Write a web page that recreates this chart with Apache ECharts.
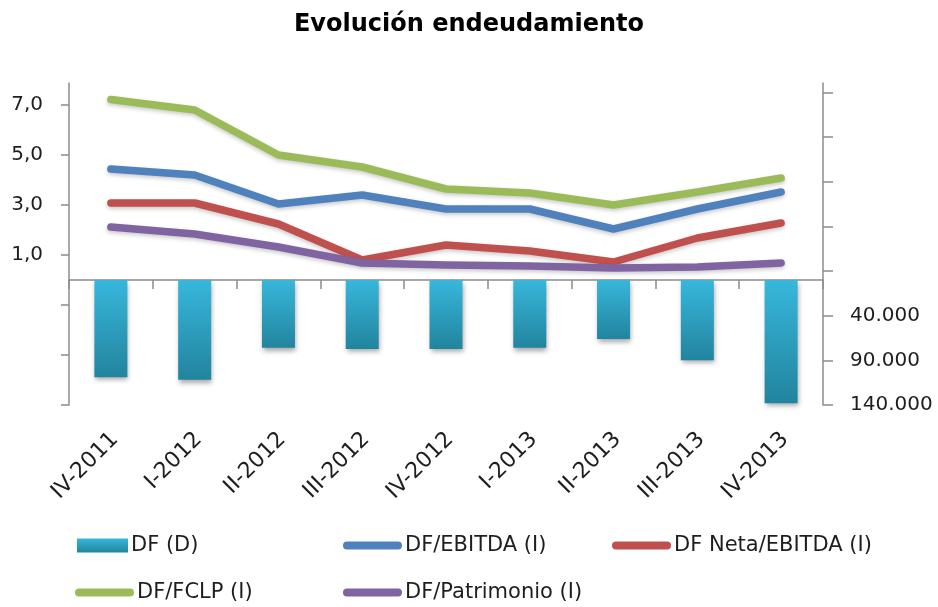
<!DOCTYPE html>
<html>
<head>
<meta charset="utf-8">
<script src="https://cdn.jsdelivr.net/npm/echarts@6/dist/echarts.min.js"></script>
<style>
html,body{margin:0;padding:0;background:#fff;}
#chart{width:938px;height:607px;}
</style>
</head>
<body>
<div id="chart"></div>
<script>
var categories = ['IV-2011','I-2012','II-2012','III-2012','IV-2012','I-2013','II-2013','III-2013','IV-2013'];
var dfDeuda = [109000, 111600, 75800, 77300, 77300, 75800, 66000, 90000, 138000];
var dfEbitda = [4.44, 4.2, 3.04, 3.4, 2.84, 2.84, 2.04, 2.84, 3.52];
var dfNetaEbitda = [3.08, 3.08, 2.24, 0.8, 1.4, 1.16, 0.72, 1.68, 2.28];
var dfFclp = [7.22, 6.8, 5.0, 4.52, 3.64, 3.48, 3.0, 3.52, 4.08];
var dfPatrimonio = [2.12, 1.84, 1.32, 0.68, 0.6, 0.56, 0.48, 0.52, 0.68];
var leftTicks = [-5, -3, -1, 1, 3, 5, 7];
var leftLabels = [1, 3, 5, 7];
var rightTicks = [-210000, -160000, -110000, -60000, -10000, 40000, 90000, 140000];
var rightLabels = [40000, 90000, 140000];

var FONT = 'DejaVu Sans';
var AXIS_COLOR = '#8c8c8c';
var TEXT_COLOR = '#1e1e1e';
var capsule = 'path://M4,0 L56,0 A4,4 0 0 1 56,8 L4,8 A4,4 0 0 1 4,0 Z';

var chart = echarts.init(document.getElementById('chart'), null, {renderer: 'canvas'});

function lineSeries(name, data, color) {
  return {
    name: name, type: 'line', xAxisIndex: 0, yAxisIndex: 0, data: data,
    symbol: 'none', smooth: false, color: color,
    lineStyle: {width: 7.5, color: color, cap: 'round', join: 'round',
      shadowColor: 'rgba(0,0,0,0.22)', shadowBlur: 4, shadowOffsetY: 2},
    itemStyle: {color: color},
    emphasis: {disabled: true}, z: 3
  };
}
function leg(name, left, top, icon, w, h) {
  return {
    data: [name], left: left, top: top, orient: 'horizontal', padding: 0,
    icon: icon, itemWidth: w, itemHeight: h, itemGap: 0, selectedMode: false,
    textStyle: {fontFamily: FONT, fontSize: 21, color: TEXT_COLOR, padding: [0,0,0,-2]}
  };
}

var barGradient = new echarts.graphic.LinearGradient(0, 0, 0, 1, [
  {offset: 0, color: '#37b7db'},
  {offset: 1, color: '#22849e'}
]);

chart.setOption({
  animation: false,
  backgroundColor: '#fff',
  title: {
    text: 'Evolución endeudamiento', left: 'center', top: 8,
    textStyle: {fontFamily: FONT, fontSize: 24, fontWeight: 'bold', color: '#000'}
  },
  legend: [
    leg('DF (D)', 77, 535, 'rect', 51, 14),
    leg('DF/EBITDA (I)', 343, 535, capsule, 59, 8),
    leg('DF Neta/EBITDA (I)', 612, 535, capsule, 59, 8),
    leg('DF/FCLP (I)', 75, 582, capsule, 59, 8),
    leg('DF/Patrimonio (I)', 343, 582, capsule, 59, 8)
  ],
  grid: [
    {left: 69, right: 115, top: 83, bottom: 202, outerBoundsMode: 'none', containLabel: false},
    {left: 73, right: 111, top: 83, bottom: 202, outerBoundsMode: 'none', containLabel: false}
  ],
  xAxis: [
    {
      type: 'category', gridIndex: 0, data: categories, boundaryGap: true,
      axisLine: {show: true, onZero: true, onZeroAxisIndex: 0, lineStyle: {color: AXIS_COLOR, width: 1.5}},
      axisTick: {show: true, length: 9, alignWithLabel: false, lineStyle: {color: AXIS_COLOR, width: 1.5}},
      axisLabel: {show: false}, splitLine: {show: false}
    },
    {
      type: 'category', gridIndex: 1, data: categories, boundaryGap: true, position: 'bottom',
      axisLine: {show: false, onZero: false}, axisTick: {show: false}, splitLine: {show: false},
      axisLabel: {show: true, rotate: 45, interval: 0, margin: 31,
        fontFamily: FONT, fontSize: 22, color: TEXT_COLOR}
    }
  ],
  yAxis: [
    {
      type: 'value', gridIndex: 0, position: 'left', min: -5, max: 7.88,
      axisLine: {show: true, lineStyle: {color: AXIS_COLOR, width: 1.5}},
      axisTick: {show: true, length: 8, customValues: leftTicks, lineStyle: {color: AXIS_COLOR, width: 1.5}},
      axisLabel: {show: true, customValues: leftLabels, margin: 26, fontFamily: FONT, fontSize: 20, color: TEXT_COLOR,
        formatter: function (v) { return v.toFixed(1).replace('.', ','); }},
      splitLine: {show: false}
    },
    {
      type: 'value', gridIndex: 0, position: 'right', inverse: true, min: -220640, max: 140000,
      axisLine: {show: true, onZero: false, lineStyle: {color: AXIS_COLOR, width: 1.5}},
      axisTick: {show: true, length: 10, customValues: rightTicks, lineStyle: {color: AXIS_COLOR, width: 1.5}},
      axisLabel: {show: true, customValues: rightLabels, margin: 27, fontFamily: FONT, fontSize: 20, color: TEXT_COLOR,
        formatter: function (v) { return String(v).replace(/\B(?=(\d{3})+(?!\d))/g, '.'); }},
      splitLine: {show: false}
    },
    {
      type: 'value', gridIndex: 1, min: 0, max: 1, show: false,
      axisLine: {show: false}, axisTick: {show: false}, axisLabel: {show: false}, splitLine: {show: false}
    }
  ],
  series: [
    {
      name: 'DF (D)', type: 'bar', xAxisIndex: 0, yAxisIndex: 1, data: dfDeuda,
      barWidth: 33, color: barGradient,
      itemStyle: {color: barGradient, shadowColor: 'rgba(0,0,0,0.35)', shadowBlur: 5, shadowOffsetY: 3, shadowOffsetX: 1},
      emphasis: {disabled: true}, z: 1
    },
    lineSeries('DF/EBITDA (I)', dfEbitda, '#4f81bd'),
    lineSeries('DF Neta/EBITDA (I)', dfNetaEbitda, '#c0504d'),
    lineSeries('DF/FCLP (I)', dfFclp, '#9bbb59'),
    lineSeries('DF/Patrimonio (I)', dfPatrimonio, '#8064a2')
  ]
});
</script>
</body>
</html>
